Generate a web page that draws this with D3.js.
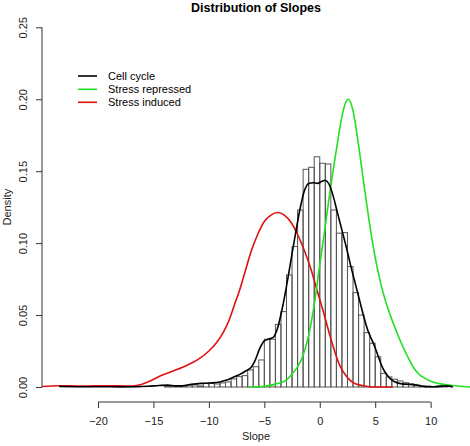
<!DOCTYPE html>
<html>
<head>
<meta charset="utf-8">
<script src="https://cdn.jsdelivr.net/npm/d3@7"></script>
<style>
  body { margin: 0; background: #fff; }
  svg { display: block; font-family: "Liberation Sans", Arial, Helvetica, sans-serif; }
</style>
</head>
<body>
<svg id="chart" width="470" height="446"></svg>
<script>
// ---------- data ----------
const title = "Distribution of Slopes";
const xLabel = "Slope";
const yLabel = "Density";
const xTicks = [-20, -15, -10, -5, 0, 5, 10];
const yTicks = [0, 0.05, 0.10, 0.15, 0.20, 0.25];
const seriesNames = ["Cell cycle", "Stress repressed", "Stress induced"];
const seriesColors = ["#000000", "#22e022", "#e01010"];

// histogram: left edges of 0.5-wide bins and their densities
const binWidth = 0.5;
const binStarts = [-14, -13.5, -13, -12.5, -12, -11.5, -11, -10.5, -10, -9.5, -9, -8.5, -8, -7.5, -7, -6.5, -6, -5.5, -5, -4.5, -4, -3.5, -3, -2.5, -2, -1.5, -1, -0.5, 0, 0.5, 1, 1.5, 2, 2.5, 3, 3.5, 4, 4.5, 5, 5.5, 6, 6.5, 7, 7.5, 8, 8.5, 9, 9.5, 10, 10.5, 11];
const binDensity = [0.0007, 0.0003, 0.0005, 0.0003, 0.0014, 0.0014, 0.0007, 0.0025, 0.0025, 0.0021, 0.0028, 0.0035, 0.0056, 0.0072, 0.0079, 0.0118, 0.0141, 0.0188, 0.0332, 0.0332, 0.0435, 0.0524, 0.0779, 0.0976, 0.123, 0.1513, 0.1527, 0.160, 0.1555, 0.155, 0.123, 0.1069, 0.1073, 0.0837, 0.0656, 0.050, 0.0378, 0.0304, 0.021, 0.0095, 0.0070, 0.0054, 0.0042, 0.003, 0.0021, 0.0014, 0.0007, 0.0007, 0.0003, 0.0007, 0.0003];

// density curves
const cellX = [-23.5, -22, -20, -18, -16.5, -15.5, -14.5, -13.7, -13, -12.4, -11.6, -10.7, -9.9, -9.0, -8.4, -7.8, -7.2, -6.6, -6.2, -5.8, -5.4, -5.0, -4.6, -4.2, -3.8, -3.4, -3.0, -2.6, -2.2, -1.8, -1.4, -1.0, -0.6, -0.2, 0.2, 0.5, 0.8, 1.2, 1.6, 2.0, 2.4, 2.8, 3.2, 3.6, 4.0, 4.4, 4.8, 5.2, 5.6, 6.0, 6.4, 6.8, 7.4, 8.0, 8.6, 9.2, 9.8, 10.4, 11.0, 11.4, 12.0];
const cellY = [0.0003, 0.0002, 0.0002, 0.0001, 0.0002, 0.0005, 0.001, 0.0013, 0.0008, 0.0008, 0.0018, 0.0025, 0.0028, 0.0035, 0.0048, 0.0068, 0.0088, 0.0115, 0.0135, 0.019, 0.027, 0.032, 0.0333, 0.0345, 0.041, 0.054, 0.07, 0.088, 0.106, 0.123, 0.136, 0.1415, 0.142, 0.1415, 0.143, 0.1437, 0.1415, 0.133, 0.121, 0.109, 0.097, 0.084, 0.072, 0.06, 0.048, 0.038, 0.031, 0.023, 0.0145, 0.009, 0.0055, 0.0035, 0.0022, 0.0019, 0.0015, 0.0007, 0.0002, 0.0002, 0.0006, 0.0008, 0.0001];

const repX = [-6.4, -5, -4, -3, -2.5, -2, -1.5, -1, -0.5, 0, 0.5, 1, 1.5, 2, 2.3, 2.6, 3.0, 3.5, 4.0, 4.5, 5.0, 5.5, 6.0, 6.5, 7.0, 7.5, 8.0, 8.5, 9.0, 9.5, 10, 10.5, 11, 11.5, 12, 13, 13.6];
const repY = [0, 0.0005, 0.002, 0.005, 0.009, 0.014, 0.022, 0.036, 0.057, 0.085, 0.112, 0.14, 0.165, 0.188, 0.197, 0.200, 0.192, 0.168, 0.14, 0.113, 0.09, 0.072, 0.058, 0.047, 0.037, 0.028, 0.02, 0.013, 0.0085, 0.006, 0.004, 0.0028, 0.002, 0.0015, 0.001, 0.0003, 0];

const indX = [-25.1, -23.5, -21.5, -19, -17, -16.2, -15.2, -14.3, -13.1, -12, -11, -10, -9.3, -8.7, -8.2, -7.7, -7.2, -6.7, -6.2, -5.6, -5.0, -4.4, -3.8, -3.2, -2.6, -2.0, -1.4, -0.8, -0.2, 0.3, 0.8, 1.3, 1.8, 2.4, 3.0, 3.8, 4.8, 6.6];
const indY = [0.0003, 0.0009, 0.0006, 0.0009, 0.0006, 0.0015, 0.0045, 0.008, 0.0115, 0.015, 0.019, 0.025, 0.031, 0.038, 0.046, 0.057, 0.068, 0.081, 0.094, 0.106, 0.115, 0.1195, 0.1213, 0.1195, 0.1145, 0.106, 0.095, 0.082, 0.066, 0.053, 0.039, 0.026, 0.015, 0.0075, 0.003, 0.001, 0.0, 0.0];

// ---------- layout ----------
const plot = { left: 42, right: 470, top: 13, bottom: 401 };
const svg = d3.select("#chart");

const x = d3.scaleLinear().domain([-25.05, 13.55]).range([plot.left, plot.right]);
const y = d3.scaleLinear().domain([0, 0.25]).range([387, 27.3]);

svg.append("defs").append("clipPath").attr("id", "clip")
  .append("rect").attr("x", plot.left).attr("y", plot.top)
  .attr("width", plot.right - plot.left).attr("height", plot.bottom - plot.top);

const g = svg.append("g").attr("clip-path", "url(#clip)");

// histogram bars
g.selectAll("rect.bar").data(binStarts.map((s, i) => ({ s, d: binDensity[i] })))
  .enter().append("rect").attr("class", "bar")
  .attr("x", d => x(d.s))
  .attr("width", d => x(d.s + binWidth) - x(d.s))
  .attr("y", d => y(d.d))
  .attr("height", d => y(0) - y(d.d))
  .attr("fill", "none")
  .attr("stroke", "#555")
  .attr("stroke-width", 1);

// curves
const line = d3.line().x(d => x(d[0])).y(d => y(d[1])).curve(d3.curveMonotoneX);
const curves = [
  { xs: indX, ys: indY, c: seriesColors[2] },
  { xs: repX, ys: repY, c: seriesColors[1] },
  { xs: cellX, ys: cellY, c: seriesColors[0] }
];
curves.forEach(cv => {
  g.append("path")
    .attr("d", line(cv.xs.map((v, i) => [v, cv.ys[i]])))
    .attr("fill", "none")
    .attr("stroke", cv.c)
    .attr("stroke-width", 1.6)
    .attr("stroke-linejoin", "round");
});

// x axis
const xAxisY = 402;
const xa = svg.append("g").attr("transform", `translate(0,${xAxisY})`)
  .call(d3.axisBottom(x).tickValues(xTicks).tickSize(6).tickPadding(9).tickFormat(d3.format("d")));
xa.select(".domain").attr("d", `M${x(xTicks[0])},0H${x(xTicks[xTicks.length - 1])}`).attr("stroke", "#333");
xa.selectAll(".tick line").attr("stroke", "#333");
xa.selectAll(".tick text").attr("font-size", 11).attr("fill", "#222")
  .attr("font-family", "Liberation Sans, Arial, sans-serif");

// y axis
const ya = svg.append("g").attr("transform", `translate(${plot.left},0)`)
  .call(d3.axisLeft(y).tickValues(yTicks).tickSize(6).tickFormat(d3.format(".2f")));
ya.select(".domain").attr("d", `M0,${y(0)}V${y(0.25)}`).attr("stroke", "#333");
ya.selectAll(".tick line").attr("stroke", "#333");
ya.selectAll(".tick text").remove();
ya.selectAll(".tick").append("text")
  .attr("transform", "translate(-15,0) rotate(-90)")
  .attr("text-anchor", "middle")
  .attr("font-size", 11).attr("fill", "#222")
  .attr("font-family", "Liberation Sans, Arial, sans-serif")
  .text(d => d3.format(".2f")(d));

// axis titles
svg.append("text").attr("x", (plot.left + plot.right) / 2).attr("y", 440)
  .attr("text-anchor", "middle").attr("font-size", 11).attr("fill", "#222").text(xLabel);
svg.append("text").attr("transform", `translate(11,${(y(0) + y(0.25)) / 2}) rotate(-90)`)
  .attr("text-anchor", "middle").attr("font-size", 11).attr("fill", "#222").text(yLabel);

// title
svg.append("text").attr("x", (plot.left + plot.right) / 2).attr("y", 12)
  .attr("text-anchor", "middle").attr("font-size", 12.5).attr("font-weight", "bold")
  .attr("fill", "#000").text(title);

// legend
const legendY = [76, 89.3, 102.3];
const lg = svg.append("g");
seriesNames.forEach((n, i) => {
  lg.append("line").attr("x1", 78).attr("x2", 97).attr("y1", legendY[i]).attr("y2", legendY[i])
    .attr("stroke", seriesColors[i]).attr("stroke-width", 1.6);
  lg.append("text").attr("x", 108).attr("y", legendY[i] + 4).attr("font-size", 11)
    .attr("fill", "#000").text(n);
});
</script>
</body>
</html>
